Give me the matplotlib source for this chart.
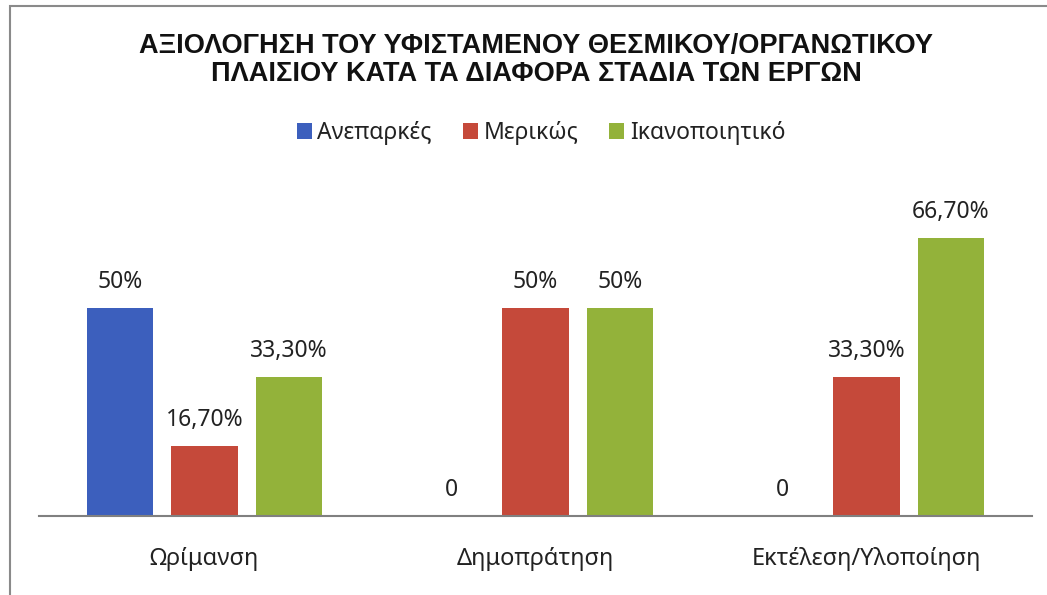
import matplotlib
matplotlib.use("Agg")
import matplotlib.pyplot as plt
import numpy as np

# Categories, series and their values (percent)
stages = ["Ωρίμανση", "Δημοπράτηση", "Εκτέλεση/Υλοποίηση"]
series_names = ["Ανεπαρκές", "Μερικώς", "Ικανοποιητικό"]
anepark = [50, 0, 0]
merikos = [16.7, 50, 33.3]
ikanop = [33.3, 50, 66.7]
value_labels = [
    ["50%", "0", "0"],
    ["16,70%", "50%", "33,30%"],
    ["33,30%", "50%", "66,70%"],
]
colors = ["#3c5fbd", "#c5493a", "#93b23a"]

body_font = ["Noto Sans", "DejaVu Sans"]
title_font = ["Liberation Sans", "DejaVu Sans"]

fig = plt.figure(figsize=(10.47, 5.95), dpi=100)
fig.patch.set_facecolor("white")
ax = fig.add_axes([39 / 1047, 79 / 595, 993 / 1047, 0.56])

x = np.arange(len(stages))
width = 0.2
step = 0.255
all_series = [anepark, merikos, ikanop]
for k, (vals, name, col) in enumerate(zip(all_series, series_names, colors)):
    pos = x + (k - 1) * step
    ax.bar(pos, vals, width=width, color=col, label=name, zorder=2)
    for p, v, lab in zip(pos, vals, value_labels[k]):
        ax.text(p, v + 3.4, lab, ha="center", va="bottom", fontsize=16.5,
                family=body_font, color="#222222")

ax.set_xlim(-0.5, 2.5)
ax.set_ylim(0, 80)
ax.set_xticks(x)
ax.set_xticklabels(stages, family=body_font, fontsize=17, color="#222222")
ax.tick_params(axis="x", length=0, pad=22)
ax.set_yticks([])
for side in ["top", "right", "left"]:
    ax.spines[side].set_visible(False)
ax.spines["bottom"].set_color("#808080")
ax.spines["bottom"].set_linewidth(1.5)

fig.text(0.512, 0.899, "ΑΞΙΟΛΟΓΗΣΗ ΤΟΥ ΥΦΙΣΤΑΜΕΝΟΥ ΘΕΣΜΙΚΟΥ/ΟΡΓΑΝΩΤΙΚΟΥ\nΠΛΑΙΣΙΟΥ ΚΑΤΑ ΤΑ ΔΙΑΦΟΡΑ ΣΤΑΔΙΑ ΤΩΝ ΕΡΓΩΝ",
         ha="center", va="center", fontsize=19.5, fontweight="bold",
         family=title_font, linespacing=1.1, color="#111111")

leg = fig.legend(loc="center", bbox_to_anchor=(541 / 1047, 1 - 133 / 595), ncol=3, frameon=False,
                 prop={"family": body_font, "size": 16.5}, handlelength=0.65,
                 handleheight=0.65, handletextpad=0.25, columnspacing=1.35)
for t in leg.get_texts():
    t.set_color("#222222")

# Outer frame around the chart
frame = plt.Rectangle((10 / 1047, -0.1), 1.2, 1.1 - 6 / 595, transform=fig.transFigure,
                      fill=False, edgecolor="#8a8a8a", linewidth=1.5, clip_on=False)
fig.patches.append(frame)

fig.savefig("out.png", dpi=100)
